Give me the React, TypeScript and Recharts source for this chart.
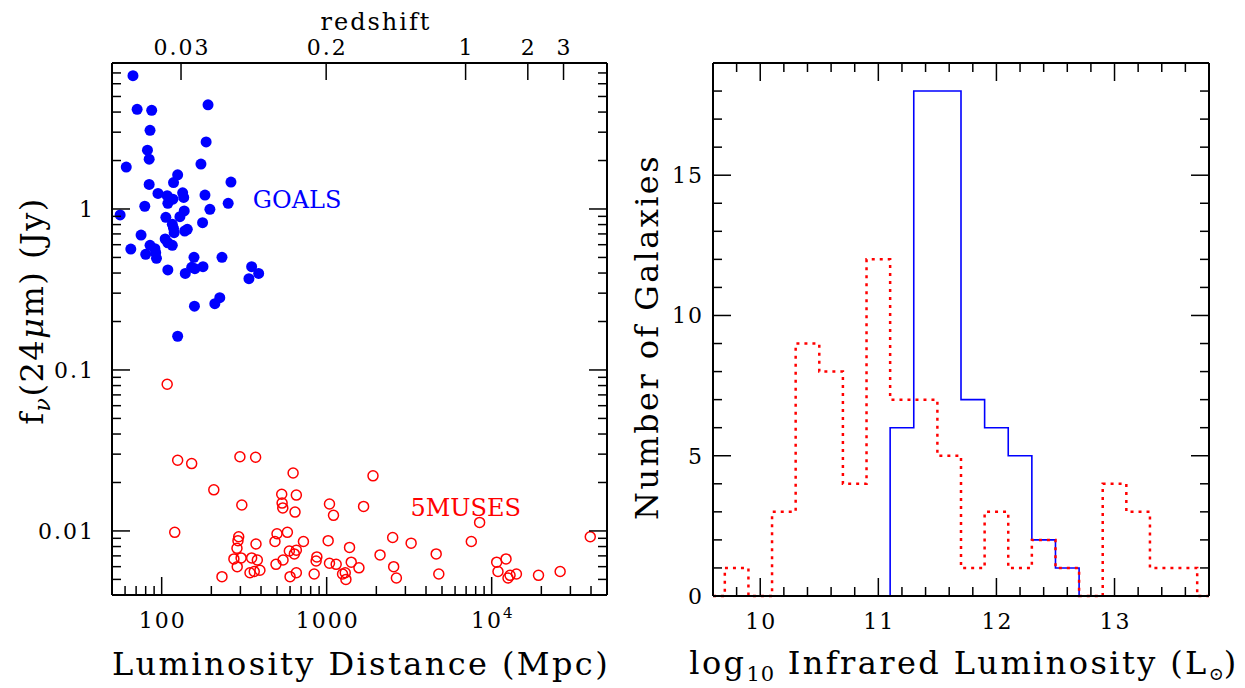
import React from "react";
import {
  ScatterChart,
  Scatter,
  LineChart,
  Line,
  XAxis,
  YAxis,
  ReferenceDot,
} from "recharts";

// left panel: GOALS (filled) and 5MUSES (open), distance in Mpc, flux in Jy
const goalsDist = [
  67, 71, 87, 191, 85, 186, 82, 84, 61, 173, 125, 118, 84, 263, 95, 108, 134,
  136, 183, 117, 109, 253, 79, 56, 137, 129, 106, 196, 177, 116, 118, 143, 138,
  75, 119, 105, 109, 116, 85, 91, 65, 80, 92, 93, 157, 232, 152, 159, 178, 351,
  387, 338, 109, 139, 225, 210, 158, 125,
];
const goalsFlux = [
  6.73, 4.16, 4.1, 4.44, 3.08, 2.61, 2.32, 2.04, 1.82, 1.9, 1.63, 1.46, 1.42,
  1.47, 1.25, 1.21, 1.26, 1.18, 1.22, 1.15, 1.085, 1.085, 1.04, 0.918, 0.972,
  0.896, 0.888, 0.996, 0.822, 0.803, 0.759, 0.748, 0.73, 0.689, 0.713, 0.651,
  0.617, 0.595, 0.595, 0.567, 0.564, 0.523, 0.535, 0.494, 0.501, 0.501, 0.434,
  0.426, 0.438, 0.438, 0.398, 0.369, 0.418, 0.398, 0.281, 0.258, 0.249, 0.162,
];
const musesDist = [
  108, 125, 152, 298, 371, 626, 1909, 207, 534, 655, 306, 537, 542, 1040, 1674,
  643, 1100, 8453, 120, 293, 578, 500, 2512, 39590, 290, 373, 486, 723, 1021,
  3250, 7526, 286, 594, 655, 637, 1376, 2106, 4611, 274, 303, 351, 380, 544,
  872, 863, 493, 1040, 1142, 1409, 10725, 12218, 287, 1569, 2547, 343, 364,
  394, 655, 840, 1248, 1296, 10922, 4782, 12920, 14125, 19224, 26000, 232, 600,
  1308, 2646, 12560,
];
const musesFlux = [
  0.0815, 0.0275, 0.0262, 0.0289, 0.0287, 0.0229, 0.022, 0.018, 0.0169,
  0.0167, 0.0145, 0.0149, 0.0139, 0.0147, 0.0142, 0.0131, 0.0125, 0.0113,
  0.0098, 0.0092, 0.0098, 0.0096, 0.0091, 0.0092, 0.0087, 0.0083, 0.0086,
  0.0086, 0.0087, 0.0084, 0.0086, 0.0078, 0.0075, 0.0076, 0.0072, 0.0079,
  0.0071, 0.0072, 0.0067, 0.0068, 0.0068, 0.0066, 0.0066, 0.0069, 0.0065,
  0.0062, 0.0063, 0.0062, 0.0064, 0.0064, 0.0067, 0.006, 0.0059, 0.006, 0.0055,
  0.0056, 0.0057, 0.0055, 0.0054, 0.0054, 0.0055, 0.0056, 0.0054, 0.0053,
  0.0054, 0.0053, 0.0056, 0.0052, 0.0052, 0.005, 0.0051, 0.0051,
];

const distTicks = [
  60, 70, 80, 90, 100, 200, 300, 400, 500, 600, 700, 800, 900, 1000, 2000,
  3000, 4000, 5000, 6000, 7000, 8000, 9000, 10000, 20000, 30000, 40000,
];
const fluxTicks = [
  0.005, 0.006, 0.007, 0.008, 0.009, 0.01, 0.02, 0.03, 0.04, 0.05, 0.06, 0.07,
  0.08, 0.09, 0.1, 0.2, 0.3, 0.4, 0.5, 0.6, 0.7, 0.8, 0.9, 1, 2, 3, 4, 5, 6, 7,
];
const redshiftLabels = ["0.03", "0.2", "1", "2", "3"];
const redshiftDist = [131, 993, 6950, 16560, 27260];

// right panel: histogram of log LIR, bins of 0.2 dex
const lirCenters = [
  9.8, 10.0, 10.2, 10.4, 10.6, 10.8, 11.0, 11.2, 11.4, 11.6, 11.8, 12.0, 12.2,
  12.4, 12.6, 12.8, 13.0, 13.2, 13.4, 13.6,
];
const musesCounts = [1, 0, 3, 9, 8, 4, 12, 7, 7, 5, 1, 3, 1, 2, 1, 0, 4, 3, 1, 1];
const goalsCounts = [0, 0, 0, 0, 0, 0, 0, 6, 18, 18, 7, 6, 5, 2, 1, 0, 0, 0, 0, 0];

const lirTicks: number[] = [];
for (let i = 0; i <= 19; i++) lirTicks.push(Math.round((9.8 + i * 0.2) * 10) / 10);
const countTicks: number[] = [];
for (let i = 0; i <= 18; i++) countTicks.push(i);

const goalsData = goalsDist.map((d, i) => ({ d, f: goalsFlux[i] }));
const musesData = musesDist.map((d, i) => ({ d, f: musesFlux[i] }));

const histData = [
  { x: 9.6, m: 0, g: 0 },
  ...lirCenters.map((c, i) => ({
    x: Math.round((c - 0.1) * 10) / 10,
    m: musesCounts[i],
    g: goalsCounts[i],
  })),
  { x: 13.7, m: 0, g: 0 },
  { x: 13.8, m: 0, g: 0 },
];

const FONT = "'DejaVu Serif', serif";
const tickFont = { fontFamily: FONT, fontSize: 22, letterSpacing: 2, fill: "#000" };
const titleFont = { fontFamily: FONT, fontSize: 32, letterSpacing: 2.4, fill: "#000" };
const axisLine = { stroke: "#000", strokeWidth: 2 };

const isPow10 = (v: number) =>
  Math.abs(Math.log10(v) - Math.round(Math.log10(v))) < 1e-6;

const distLabel = (v: number) => {
  if (v === 10000)
    return (
      <>
        10<tspan dy={-10} fontSize={15}>4</tspan>
      </>
    );
  return String(v);
};

const DistTick = (p: any) => {
  const major = isPow10(p.payload.value);
  return (
    <g>
      <line x1={p.x} x2={p.x} y1={p.y} y2={p.y - (major ? 18 : 9)} stroke="#000" strokeWidth={1.5} />
      {major && (
        <text x={p.x + 1} y={p.y + 33} textAnchor="middle" style={tickFont}>
          {distLabel(p.payload.value)}
        </text>
      )}
    </g>
  );
};

const RedshiftTick = (p: any) => {
  const i = redshiftDist.indexOf(p.payload.value);
  return (
    <g>
      <line x1={p.x} x2={p.x} y1={p.y} y2={p.y + 17} stroke="#000" strokeWidth={1.5} />
      <text x={p.x + 1} y={p.y - 8} textAnchor="middle" style={tickFont}>
        {redshiftLabels[i]}
      </text>
    </g>
  );
};

const FluxTick = (p: any) => {
  const major = isPow10(p.payload.value);
  return (
    <g>
      <line x1={p.x} x2={p.x + (major ? 18 : 9)} y1={p.y} y2={p.y} stroke="#000" strokeWidth={1.5} />
      {major && (
        <text x={p.x - 17} y={p.y + 8} textAnchor="end" style={tickFont}>
          {String(p.payload.value)}
        </text>
      )}
    </g>
  );
};

const FluxTickRight = (p: any) => {
  const major = isPow10(p.payload.value);
  return (
    <line x1={p.x} x2={p.x - (major ? 18 : 9)} y1={p.y} y2={p.y} stroke="#000" strokeWidth={1.5} />
  );
};

const LirTick = (p: any) => {
  const v = p.payload.value;
  const major = Math.abs(v - Math.round(v)) < 1e-6;
  return (
    <g>
      <line x1={p.x} x2={p.x} y1={p.y} y2={p.y - (major ? 18 : 9)} stroke="#000" strokeWidth={1.5} />
      {major && (
        <text x={p.x + 1} y={p.y + 33} textAnchor="middle" style={tickFont}>
          {String(v)}
        </text>
      )}
    </g>
  );
};

const LirTickTop = (p: any) => {
  const v = p.payload.value;
  const major = Math.abs(v - Math.round(v)) < 1e-6;
  return (
    <line x1={p.x} x2={p.x} y1={p.y} y2={p.y + (major ? 18 : 9)} stroke="#000" strokeWidth={1.5} />
  );
};

const CountTick = (p: any) => {
  const v = p.payload.value;
  const major = v % 5 === 0;
  return (
    <g>
      <line x1={p.x} x2={p.x + (major ? 18 : 9)} y1={p.y} y2={p.y} stroke="#000" strokeWidth={1.5} />
      {major && (
        <text x={p.x - 9} y={p.y + 8} textAnchor="end" style={tickFont}>
          {String(v)}
        </text>
      )}
    </g>
  );
};

const CountTickRight = (p: any) => {
  const major = p.payload.value % 5 === 0;
  return (
    <line x1={p.x} x2={p.x - (major ? 18 : 9)} y1={p.y} y2={p.y} stroke="#000" strokeWidth={1.5} />
  );
};

const goalsDot = (p: any) => <circle cx={p.cx} cy={p.cy} r={5.5} fill="#0000ff" />;
const musesDot = (p: any) => (
  <circle cx={p.cx} cy={p.cy} r={5} fill="none" stroke="#ff0000" strokeWidth={1.5} />
);

export default function App() {
  return (
    <div style={{ position: "absolute", left: 0, top: 0, width: 1245, height: 688, background: "#fff" }}>
      <div style={{ position: "absolute", left: 0, top: 0 }}>
        <ScatterChart width={620} height={688} margin={{ top: 33, right: 3, bottom: 53, left: 52 }}>
          <XAxis
            xAxisId="b"
            type="number"
            dataKey="d"
            scale="log"
            domain={[50, 50000]}
            allowDataOverflow
            ticks={distTicks}
            interval={0}
            height={40}
            tickSize={0}
            tickMargin={0}
            tickLine={false}
            axisLine={axisLine}
            tick={DistTick}
            label={{
              content: () => (
                <text x={361} y={675} textAnchor="middle" style={titleFont}>
                  Luminosity Distance (Mpc)
                </text>
              ),
            }}
          />
          <XAxis
            xAxisId="t"
            orientation="top"
            type="number"
            dataKey="d"
            scale="log"
            domain={[50, 50000]}
            allowDataOverflow
            ticks={redshiftDist}
            interval={0}
            height={30}
            tickSize={0}
            tickMargin={0}
            tickLine={false}
            axisLine={axisLine}
            tick={RedshiftTick}
            label={{
              content: () => (
                <text x={376} y={30} textAnchor="middle" style={{ ...titleFont, fontSize: 24, letterSpacing: 2 }}>
                  redshift
                </text>
              ),
            }}
          />
          <YAxis
            yAxisId="l"
            type="number"
            dataKey="f"
            scale="log"
            domain={[0.004, 8.07]}
            allowDataOverflow
            ticks={fluxTicks}
            interval={0}
            width={60}
            tickSize={0}
            tickMargin={0}
            tickLine={false}
            axisLine={axisLine}
            tick={FluxTick}
            label={{
              content: () => (
                <text
                  x={43}
                  y={311}
                  textAnchor="middle"
                  transform="rotate(-90 43 311)"
                  style={{ ...titleFont, letterSpacing: 1.5 }}
                >
                  f<tspan dy={7} fontSize={22} fontStyle="italic">ν</tspan>
                  <tspan dy={-7}>(24</tspan>
                  <tspan fontStyle="italic">μ</tspan>m) (Jy)
                </text>
              ),
            }}
          />
          <YAxis
            yAxisId="r"
            orientation="right"
            type="number"
            dataKey="f"
            scale="log"
            domain={[0.004, 8.07]}
            allowDataOverflow
            ticks={fluxTicks}
            interval={0}
            width={10}
            tickSize={0}
            tickMargin={0}
            tickLine={false}
            axisLine={axisLine}
            tick={FluxTickRight}
          />
          <Scatter
            xAxisId="b"
            yAxisId="l"
            data={goalsData}
            dataKey="f"
            shape={goalsDot}
            isAnimationActive={false}
          />
          <Scatter
            xAxisId="t"
            yAxisId="r"
            data={musesData}
            dataKey="f"
            shape={musesDot}
            isAnimationActive={false}
          />
          <ReferenceDot
            xAxisId="b"
            yAxisId="l"
            x={357}
            y={1.14}
            r={0}
            shape={(p: any) => (
              <text x={p.cx} y={p.cy + 8} style={{ fontFamily: FONT, fontSize: 24, fill: "#0000ff" }}>
                GOALS
              </text>
            )}
          />
          <ReferenceDot
            xAxisId="b"
            yAxisId="l"
            x={3219}
            y={0.0141}
            r={0}
            shape={(p: any) => (
              <text x={p.cx} y={p.cy + 9} style={{ fontFamily: FONT, fontSize: 24, fill: "#ff0000" }}>
                5MUSES
              </text>
            )}
          />
        </ScatterChart>
      </div>
      <div style={{ position: "absolute", left: 620, top: 0 }}>
        <LineChart width={625} height={688} data={histData} margin={{ top: 33, right: 26, bottom: 52, left: 33 }}>
          <XAxis
            xAxisId="b"
            type="number"
            dataKey="x"
            domain={[9.6, 13.8]}
            allowDataOverflow
            ticks={lirTicks}
            interval={0}
            height={40}
            tickSize={0}
            tickMargin={0}
            tickLine={false}
            axisLine={axisLine}
            tick={LirTick}
            label={{
              content: () => (
                <text x={344} y={674} textAnchor="middle" style={titleFont}>
                  log<tspan dy={7} fontSize={21} letterSpacing={1}>10</tspan>
                  <tspan dy={-7}> Infrared Luminosity (L</tspan>
                  <tspan dy={6} fontSize={18} letterSpacing={0}>⊙</tspan>
                  <tspan dy={-6}>)</tspan>
                </text>
              ),
            }}
          />
          <XAxis
            xAxisId="t"
            orientation="top"
            type="number"
            dataKey="x"
            domain={[9.6, 13.8]}
            allowDataOverflow
            ticks={lirTicks}
            interval={0}
            height={30}
            tickSize={0}
            tickMargin={0}
            tickLine={false}
            axisLine={axisLine}
            tick={LirTickTop}
          />
          <YAxis
            yAxisId="l"
            type="number"
            domain={[0, 19]}
            ticks={countTicks}
            interval={0}
            width={60}
            tickSize={0}
            tickMargin={0}
            tickLine={false}
            axisLine={axisLine}
            tick={CountTick}
            label={{
              content: () => (
                <text x={38} y={337} textAnchor="middle" transform="rotate(-90 38 337)" style={titleFont}>
                  Number of Galaxies
                </text>
              ),
            }}
          />
          <YAxis
            yAxisId="r"
            orientation="right"
            type="number"
            domain={[0, 19]}
            ticks={countTicks}
            interval={0}
            width={10}
            tickSize={0}
            tickMargin={0}
            tickLine={false}
            axisLine={axisLine}
            tick={CountTickRight}
          />
          <Line
            xAxisId="b"
            yAxisId="l"
            type="stepAfter"
            dataKey="g"
            stroke="#0000ff"
            strokeWidth={1.6}
            dot={false}
            isAnimationActive={false}
          />
          <Line
            xAxisId="t"
            yAxisId="r"
            type="stepAfter"
            dataKey="m"
            stroke="#ff0000"
            strokeWidth={2.5}
            strokeDasharray="3 5"
            dot={false}
            isAnimationActive={false}
          />
        </LineChart>
      </div>
    </div>
  );
}
